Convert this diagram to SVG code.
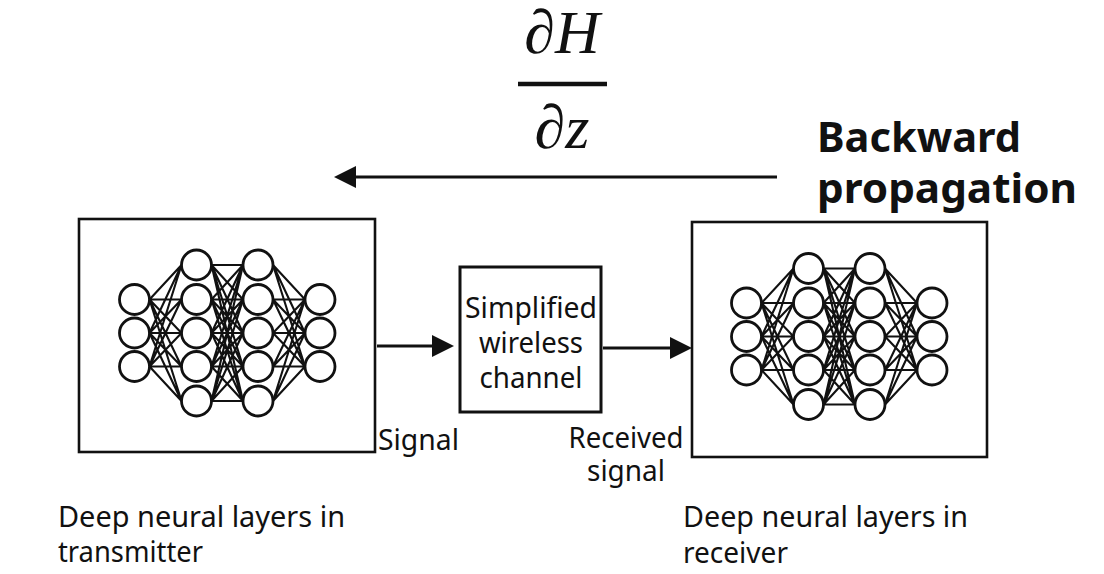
<svg xmlns="http://www.w3.org/2000/svg" xmlns:xlink="http://www.w3.org/1999/xlink" width="1104" height="574" viewBox="0 0 1104 574">
<style>
.box{fill:#fff;stroke:#111;stroke-width:2.6}
.neu{fill:#fff;stroke:#111;stroke-width:2.8}
.syn{fill:none;stroke:#111;stroke-width:2.1}
.con{fill:none;stroke:#111;stroke-width:3}
.lbl{font-family:"Noto Sans","Open Sans","Liberation Sans",sans-serif;font-size:29px;fill:#111}
.bold{font-family:"Noto Sans","Open Sans","Liberation Sans",sans-serif;font-size:42px;font-weight:bold;fill:#111}
.math{font-family:"Liberation Serif","DejaVu Serif",serif;font-style:italic;font-size:62px;fill:#111}
</style>
<defs>
<marker id="ah" markerUnits="userSpaceOnUse" viewBox="0 0 22 22" markerWidth="22" markerHeight="22" refX="0" refY="11" orient="auto">
<path d="M0,0 L22,11 L0,22 Z" fill="#111"/>
</marker>
<g id="net">
<path class="syn" d="M149.5,299.5L181.5,265M149.5,299.5L181.5,299.5M149.5,299.5L181.5,333M149.5,299.5L181.5,366.5M149.5,299.5L181.5,401M149.5,333L181.5,265M149.5,333L181.5,299.5M149.5,333L181.5,333M149.5,333L181.5,366.5M149.5,333L181.5,401M149.5,366.5L181.5,265M149.5,366.5L181.5,299.5M149.5,366.5L181.5,333M149.5,366.5L181.5,366.5M149.5,366.5L181.5,401"/>
<path class="syn" d="M211.5,265L243,265M211.5,265L243,299.5M211.5,265L243,333M211.5,265L243,366.5M211.5,265L243,401M211.5,299.5L243,265M211.5,299.5L243,299.5M211.5,299.5L243,333M211.5,299.5L243,366.5M211.5,299.5L243,401M211.5,333L243,265M211.5,333L243,299.5M211.5,333L243,333M211.5,333L243,366.5M211.5,333L243,401M211.5,366.5L243,265M211.5,366.5L243,299.5M211.5,366.5L243,333M211.5,366.5L243,366.5M211.5,366.5L243,401M211.5,401L243,265M211.5,401L243,299.5M211.5,401L243,333M211.5,401L243,366.5M211.5,401L243,401"/>
<path class="syn" d="M273,265L305,299.5M273,265L305,333M273,265L305,366.5M273,299.5L305,299.5M273,299.5L305,333M273,299.5L305,366.5M273,333L305,299.5M273,333L305,333M273,333L305,366.5M273,366.5L305,299.5M273,366.5L305,333M273,366.5L305,366.5M273,401L305,299.5M273,401L305,333M273,401L305,366.5"/>
<circle class="neu" cx="134.5" cy="299.5" r="15"/>
<circle class="neu" cx="134.5" cy="333" r="15"/>
<circle class="neu" cx="134.5" cy="366.5" r="15"/>
<circle class="neu" cx="196.5" cy="265" r="15"/>
<circle class="neu" cx="196.5" cy="299.5" r="15"/>
<circle class="neu" cx="196.5" cy="333" r="15"/>
<circle class="neu" cx="196.5" cy="366.5" r="15"/>
<circle class="neu" cx="196.5" cy="401" r="15"/>
<circle class="neu" cx="258" cy="265" r="15"/>
<circle class="neu" cx="258" cy="299.5" r="15"/>
<circle class="neu" cx="258" cy="333" r="15"/>
<circle class="neu" cx="258" cy="366.5" r="15"/>
<circle class="neu" cx="258" cy="401" r="15"/>
<circle class="neu" cx="320" cy="299.5" r="15"/>
<circle class="neu" cx="320" cy="333" r="15"/>
<circle class="neu" cx="320" cy="366.5" r="15"/>
</g>
</defs>
<rect width="1104" height="574" fill="#fff"/>

<g id="gradient">
<text class="math" x="562" y="53" text-anchor="middle">∂H</text>
<line x1="518" y1="84" x2="607" y2="84" stroke="#111" stroke-width="4.5"/>
<text class="math" x="562" y="148" text-anchor="middle">∂z</text>
</g>

<g id="backward-label">
<text class="bold" x="817" y="152" textLength="204" lengthAdjust="spacingAndGlyphs">Backward</text>
<text class="bold" x="817" y="203" textLength="260" lengthAdjust="spacingAndGlyphs">propagation</text>
</g>

<g id="transmitter">
<rect class="box" x="79" y="219" width="296" height="233"/>
<use xlink:href="#net" href="#net"/>
</g>

<g id="channel">
<rect class="box" x="460" y="267" width="141" height="145" style="stroke-width:3"/>
<text class="lbl" x="531" y="318" text-anchor="middle" textLength="132" lengthAdjust="spacingAndGlyphs">Simplified</text>
<text class="lbl" x="531" y="353" text-anchor="middle" textLength="104" lengthAdjust="spacingAndGlyphs">wireless</text>
<text class="lbl" x="531" y="388" text-anchor="middle" textLength="103" lengthAdjust="spacingAndGlyphs">channel</text>
</g>

<g id="receiver">
<rect class="box" x="692" y="222" width="295" height="235"/>
<use xlink:href="#net" href="#net" transform="translate(612,3.5)"/>
</g>

<g id="connectors">
<path class="con" d="M377,346 L432,346" marker-end="url(#ah)"/>
<path class="con" d="M603,348 L670,348" marker-end="url(#ah)"/>
<path class="con" d="M777,177 L356,177" marker-end="url(#ah)"/>
</g>

<g id="labels">
<text class="lbl" x="378" y="450" textLength="81" lengthAdjust="spacingAndGlyphs">Signal</text>
<text class="lbl" x="626" y="448" text-anchor="middle" textLength="115" lengthAdjust="spacingAndGlyphs">Received</text>
<text class="lbl" x="626" y="481" text-anchor="middle" textLength="78" lengthAdjust="spacingAndGlyphs">signal</text>
<text class="lbl" x="58" y="527" textLength="287" lengthAdjust="spacingAndGlyphs">Deep neural layers in</text>
<text class="lbl" x="58" y="562" textLength="145" lengthAdjust="spacingAndGlyphs">transmitter</text>
<text class="lbl" x="683" y="527" textLength="285" lengthAdjust="spacingAndGlyphs">Deep neural layers in</text>
<text class="lbl" x="683" y="563" textLength="105" lengthAdjust="spacingAndGlyphs">receiver</text>
</g>
</svg>
